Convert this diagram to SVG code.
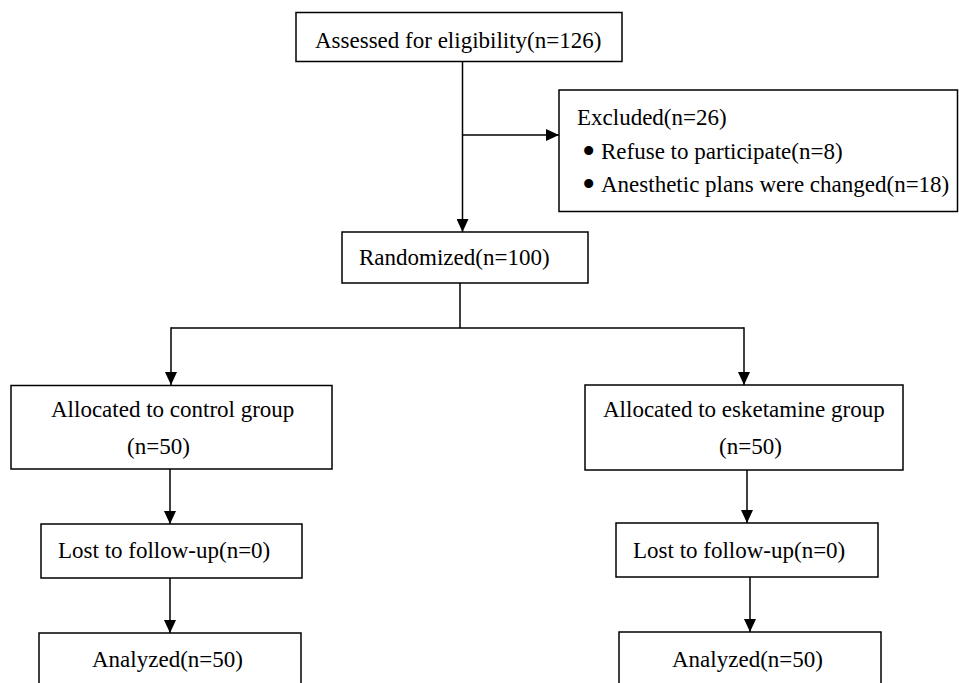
<svg xmlns="http://www.w3.org/2000/svg" width="959" height="683" viewBox="0 0 959 683">
<defs>
<marker id="ah" markerUnits="userSpaceOnUse" markerWidth="13" markerHeight="12" refX="13" refY="6" orient="auto">
<path d="M0,0 L13,6 L0,12 z" fill="#000"/>
</marker>
<style>
.n{fill:#fff;stroke:#000;stroke-width:1.5}
text{font-family:'Liberation Serif','Times New Roman',serif;font-size:23px;fill:#000}
.blt{font-size:38px}
.c line,.c polyline{stroke:#000;stroke-width:1.5;fill:none}
</style>
</defs>
<rect width="959" height="683" fill="#fff"/>
<g class="c" id="connectors">
<line x1="462.5" y1="62" x2="462.5" y2="232" marker-end="url(#ah)"/>
<line x1="462.5" y1="135" x2="559" y2="135" marker-end="url(#ah)"/>
<polyline points="171,328 744,328"/>
<line x1="460" y1="283" x2="460" y2="328"/>
<line x1="171" y1="327.25" x2="171" y2="385" marker-end="url(#ah)"/>
<line x1="744" y1="327.25" x2="744" y2="385" marker-end="url(#ah)"/>
<line x1="170" y1="469" x2="170" y2="524" marker-end="url(#ah)"/>
<line x1="747" y1="470" x2="747" y2="523" marker-end="url(#ah)"/>
<line x1="170" y1="578" x2="170" y2="633" marker-end="url(#ah)"/>
<line x1="750" y1="577" x2="750" y2="632" marker-end="url(#ah)"/>
</g>
<g id="assessed">
<rect class="n" x="296" y="12.5" width="326" height="49"/>
<text x="315" y="48">Assessed for eligibility(n=126)</text>
</g>
<g id="excluded">
<rect class="n" x="559" y="90" width="398.5" height="121.5"/>
<text x="577" y="125">Excluded(n=26)</text>
<text y="159"><tspan class="blt" x="582" dy="4.5">•</tspan><tspan x="601" dy="-4.5">Refuse to participate(n=8)</tspan></text>
<text y="192"><tspan class="blt" x="582" dy="4.5">•</tspan><tspan x="601" dy="-4.5">Anesthetic plans were changed(n=18)</tspan></text>
</g>
<g id="randomized">
<rect class="n" x="342" y="232" width="246" height="51"/>
<text x="359" y="265">Randomized(n=100)</text>
</g>
<g id="alloc-control">
<rect class="n" x="11" y="385.5" width="321" height="83.5"/>
<text x="51" y="417">Allocated to control group</text>
<text x="127" y="454">(n=50)</text>
</g>
<g id="alloc-esketamine">
<rect class="n" x="585" y="385" width="318" height="85"/>
<text x="603" y="417">Allocated to esketamine group</text>
<text x="719" y="454">(n=50)</text>
</g>
<g id="lost-control">
<rect class="n" x="41" y="524" width="261" height="54"/>
<text x="58" y="558">Lost to follow-up(n=0)</text>
</g>
<g id="lost-esketamine">
<rect class="n" x="616" y="523" width="262" height="54"/>
<text x="633" y="558">Lost to follow-up(n=0)</text>
</g>
<g id="analyzed-control">
<rect class="n" x="39" y="633" width="262" height="60"/>
<text x="92" y="667">Analyzed(n=50)</text>
</g>
<g id="analyzed-esketamine">
<rect class="n" x="619" y="632" width="262" height="61"/>
<text x="672" y="667">Analyzed(n=50)</text>
</g>
</svg>
